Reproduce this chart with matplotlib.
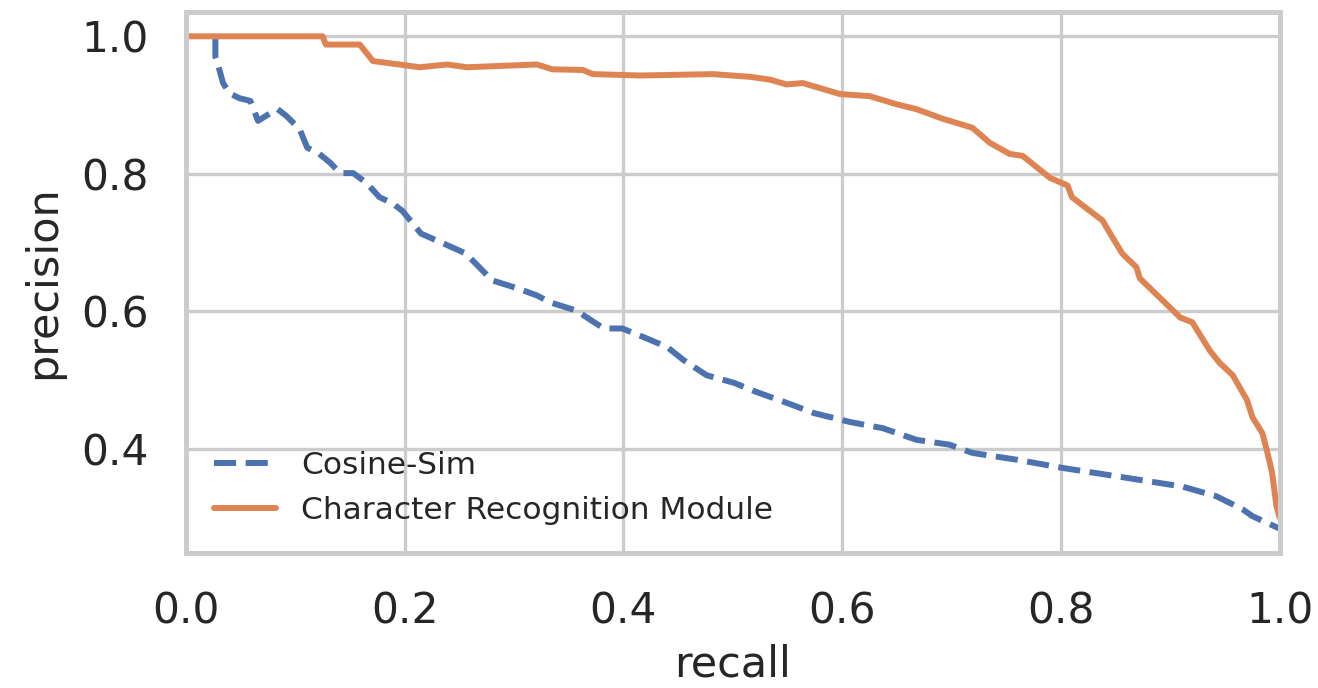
import matplotlib
matplotlib.use('Agg')
import matplotlib.pyplot as plt
import seaborn as sns

sns.set_theme(style='whitegrid')
plt.rcParams['font.family'] = ['DejaVu Sans']

# %% data
cos_recall = [0.027, 0.027, 0.029, 0.034, 0.040, 0.049, 0.059, 0.066, 0.077, 0.084,
              0.092, 0.104, 0.111, 0.122, 0.132, 0.141, 0.153, 0.165, 0.177, 0.189,
              0.198, 0.215, 0.235, 0.256, 0.280, 0.304, 0.321, 0.333, 0.357, 0.382,
              0.399, 0.419, 0.440, 0.455, 0.476, 0.501, 0.521, 0.549, 0.574, 0.607,
              0.637, 0.668, 0.698, 0.719, 0.760, 0.802, 0.851, 0.911, 0.942, 0.966,
              0.975, 0.997, 1.0]
cos_precision = [1.0, 0.970, 0.961, 0.932, 0.917, 0.910, 0.906, 0.877, 0.888, 0.894,
                 0.884, 0.865, 0.838, 0.829, 0.816, 0.801, 0.801, 0.787, 0.766, 0.757,
                 0.746, 0.713, 0.699, 0.684, 0.645, 0.633, 0.623, 0.613, 0.601, 0.575,
                 0.575, 0.562, 0.548, 0.529, 0.507, 0.496, 0.483, 0.467, 0.452, 0.439,
                 0.430, 0.413, 0.406, 0.394, 0.384, 0.372, 0.360, 0.345, 0.331, 0.312,
                 0.302, 0.286, 0.284]

crm_recall = [0.0, 0.125, 0.128, 0.159, 0.171, 0.214, 0.239, 0.257, 0.321, 0.335,
              0.363, 0.372, 0.415, 0.482, 0.516, 0.534, 0.549, 0.564, 0.598, 0.625,
              0.650, 0.668, 0.692, 0.719, 0.735, 0.753, 0.765, 0.790, 0.806, 0.810,
              0.838, 0.845, 0.856, 0.869, 0.872, 0.909, 0.920, 0.936, 0.945, 0.957,
              0.970, 0.975, 0.984, 0.988, 0.993, 0.997, 1.0]
crm_precision = [1.0, 1.0, 0.988, 0.988, 0.964, 0.955, 0.959, 0.955, 0.959, 0.952,
                 0.951, 0.945, 0.943, 0.945, 0.941, 0.937, 0.930, 0.932, 0.916, 0.913,
                 0.901, 0.894, 0.880, 0.867, 0.845, 0.829, 0.826, 0.794, 0.783, 0.766,
                 0.732, 0.713, 0.684, 0.664, 0.648, 0.591, 0.584, 0.543, 0.525, 0.507,
                 0.471, 0.446, 0.423, 0.399, 0.365, 0.316, 0.300]

# %% plot
fig, ax = plt.subplots(figsize=(13.18, 6.88), dpi=100)
fig.subplots_adjust(left=0.141, right=0.971, top=0.983, bottom=0.196)

pal = sns.color_palette('deep')
ax.plot(cos_recall, cos_precision, '--', color=pal[0], lw=4.3, label='Cosine-Sim')
ax.plot(crm_recall, crm_precision, '-', color=pal[1], lw=4.3,
        label='Character Recognition Module')

ax.set_xlim(0, 1.0)
ax.set_xticks([0.0, 0.2, 0.4, 0.6, 0.8, 1.0])
ax.set_yticks([0.4, 0.6, 0.8, 1.0])
ax.set_xlabel('recall', fontsize=31, labelpad=8)
ax.set_ylabel('precision', fontsize=31, labelpad=12)
ax.tick_params(axis='both', labelsize=30.5, length=0, pad=27)

ax.grid(True, color='#cccccc', lw=2.4)
for s in ax.spines.values():
    s.set_linewidth(3.6)
    s.set_color('#cccccc')

ax.legend(loc='lower left', frameon=False, fontsize=22.5)

fig.savefig('out.png', dpi=100)
